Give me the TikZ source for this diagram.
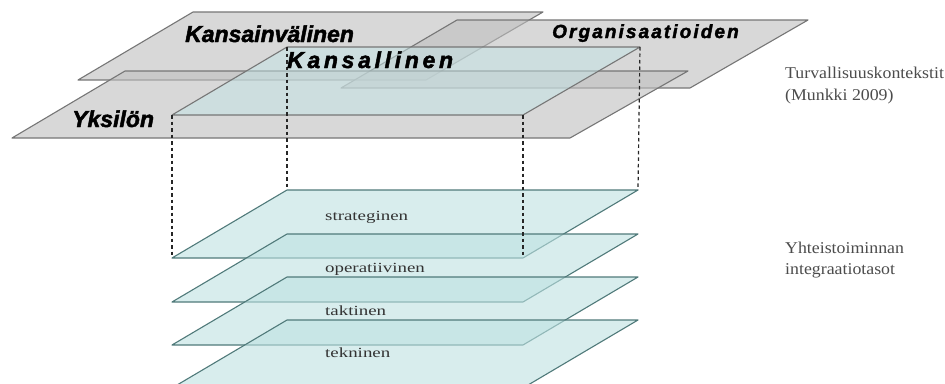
\documentclass[tikz,border=0pt]{standalone}
\usepackage{fontspec}
\setmainfont{Liberation Serif}
\newfontfamily\tagfont[FakeBold=2]{Liberation Sans}
\newfontfamily\kansfont[LetterSpace=16,FakeBold=2]{Liberation Sans}
\newfontfamily\orgfont[LetterSpace=11,FakeBold=2]{Liberation Sans}
\newfontfamily\lblfont[FakeStretch=1.35]{Liberation Serif}
\newfontfamily\sidefont[FakeStretch=1.08]{Liberation Serif}
\definecolor{planegray}{RGB}{191,191,191}
\definecolor{edgegray}{RGB}{118,118,118}
\definecolor{tealtopfill}{RGB}{196,228,230}
\definecolor{tealfill}{RGB}{190,226,226}
\definecolor{tealedge}{RGB}{80,122,122}
\tikzset{
  grayplane/.style={fill=planegray, fill opacity=0.6, draw=edgegray, line width=1.1pt, line join=round},
  tealtop/.style={fill=tealtopfill, fill opacity=0.5, draw=edgegray, line width=1.1pt, line join=round},
  tealplane/.style={fill=tealfill, fill opacity=0.6, draw=tealedge, line width=1.1pt, line join=round},
  hiddenedge/.style={draw=black!85, dash pattern=on 3.5pt off 3pt, line width=1.2pt},
  bigtag/.style={anchor=base west, inner sep=0pt, text=black},
  lbl/.style={anchor=base west, inner sep=0pt, text=black!80, font=\lblfont\fontsize{14}{16}\selectfont},
  side/.style={anchor=base west, inner sep=0pt, text=black!70, font=\sidefont\fontsize{16.5}{20}\selectfont}
}
\begin{document}
\begin{tikzpicture}[x=1pt,y=-1pt]
\useasboundingbox (0,0) rectangle (945,383);
\fill[white] (0,0) rectangle (945,383);
% upper (gray) planes
\path[grayplane] (193,12) -- (543,12) -- (426,80) -- (78,80) -- cycle;
\path[grayplane] (457,20) -- (808,20) -- (690,88) -- (341,88) -- cycle;
\path[grayplane] (125,71) -- (688,71) -- (570,138) -- (12,138) -- cycle;
\path[tealtop] (287,47) -- (640,47) -- (523,115) -- (172,115) -- cycle;
% lower (teal) planes
\path[tealplane] (287,190) -- (638,190) -- (523,258) -- (172,258) -- cycle;
\path[tealplane] (287,234) -- (638,234) -- (523,302) -- (172,302) -- cycle;
\path[tealplane] (287,277) -- (638,277) -- (523,345) -- (172,345) -- cycle;
\path[tealplane] (287,320) -- (638,320) -- (523,388) -- (172,388) -- cycle;
% box corners
\coordinate (ktl) at (287,47);
\coordinate (ktr) at (640,47);
\coordinate (kbl) at (172,115);
\coordinate (kbr) at (523,115);
\coordinate (stl) at (287,190);
\coordinate (str) at (638,190);
\coordinate (sbl) at (172,258);
\coordinate (sbr) at (523,258);
\draw[hiddenedge] (ktl) -- (stl);
\draw[hiddenedge] (ktr) -- (str);
\draw[hiddenedge] (kbl) -- (sbl);
\draw[hiddenedge] (kbr) -- (sbr);
% labels
\node[bigtag, font=\tagfont\bfseries\itshape\fontsize{23}{26}\selectfont] (kv) at (185,42) {Kansainvälinen};
\node[bigtag, font=\orgfont\bfseries\itshape\fontsize{19}{22}\selectfont] (org) at (552,38) {Organisaatioiden};
\node[bigtag, font=\kansfont\bfseries\itshape\fontsize{23}{26}\selectfont] (kl) at (287,68) {Kansallinen};
\node[bigtag, font=\tagfont\bfseries\itshape\fontsize{23}{26}\selectfont] (yk) at (72,127) {Yksilön};
\node[lbl] (s1) at (325,220) {strateginen};
\node[lbl] (s2) at (325,272) {operatiivinen};
\node[lbl] (s3) at (325,315) {taktinen};
\node[lbl] (s4) at (325,357) {tekninen};
\node[side] (t1) at (785,78) {Turvallisuuskontekstit};
\node[side] (t2) at (785,100) {(Munkki 2009)};
\node[side] (t3) at (785,253) {Yhteistoiminnan};
\node[side] (t4) at (785,274) {integraatiotasot};
\end{tikzpicture}
\end{document}
